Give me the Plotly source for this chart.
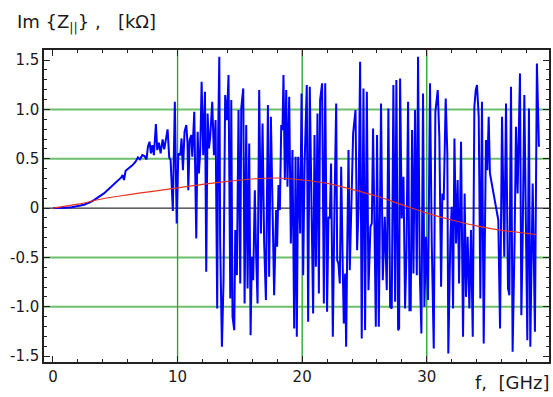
import plotly.graph_objects as go

# Blue: Im{Z||} wake impedance (kOhm) vs frequency (GHz)
f_blue = [0, 0.5, 1.0, 1.5, 2.0, 2.5, 3.0, 3.29, 4.09, 4.63, 5.16, 5.48, 5.59, 5.7, 5.83, 6.1, 6.37, 6.63, 6.82, 6.98,
          7.17, 7.35, 7.51, 7.62, 7.75, 7.86, 7.97, 8.1, 8.26, 8.37, 8.5, 8.64, 8.8, 8.93, 9.07, 9.2, 9.33, 9.44, 9.62, 9.78,
          9.93, 10.06, 10.22, 10.32, 10.43, 10.56, 10.70, 10.80, 10.86, 10.97, 11.10, 11.18, 11.34, 11.50, 11.61, 11.71, 11.82, 11.93, 12.06, 12.20,
          12.30, 12.41, 12.52, 12.62, 12.78, 12.92, 13.05, 13.18, 13.26, 13.35, 13.42, 13.56, 13.69, 13.82, 13.96, 14.09, 14.23, 14.31, 14.41, 14.55,
          14.63, 14.76, 14.89, 15.03, 15.11, 15.27, 15.38, 15.51, 15.62, 15.75, 15.86, 15.96, 16.07, 16.20, 16.31, 16.42, 16.55, 16.69, 16.82, 16.95,
          17.09, 17.25, 17.35, 17.49, 17.75, 17.91, 17.99, 18.10, 18.21, 18.32, 18.42, 18.50, 18.61, 18.72, 18.82, 18.96, 19.09, 19.22, 19.36, 19.47,
          19.57, 19.68, 19.84, 19.95, 20.08, 20.19, 20.37, 20.48, 20.61, 20.75, 20.88, 20.99, 21.10, 21.23, 21.34, 21.44, 21.60, 21.74, 21.85, 21.95,
          22.00, 22.11, 22.22, 22.32, 22.46, 22.59, 22.73, 22.81, 22.91, 23.02, 23.13, 23.26, 23.34, 23.45, 23.53, 23.61, 23.72, 23.82, 23.98, 24.09,
          24.28, 24.41, 24.52, 24.65, 24.78, 24.92, 25.05, 25.19, 25.32, 25.48, 25.59, 25.69, 25.80, 25.91, 26.01, 26.15, 26.33, 26.47, 26.63, 26.79,
          26.92, 27.06, 27.19, 27.32, 27.46, 27.56, 27.70, 27.78, 27.86, 27.99, 28.13, 28.26, 28.37, 28.50, 28.61, 28.71, 28.82, 28.93, 29.06, 29.20,
          29.30, 29.44, 29.57, 29.70, 29.81, 29.94, 30.10, 30.26, 30.40, 30.56, 30.69, 30.88, 31.01, 31.15, 31.25, 31.36, 31.52, 31.65, 31.73, 31.89,
          32.00, 32.11, 32.22, 32.35, 32.48, 32.59, 32.75, 32.91, 33.04, 33.15, 33.28, 33.42, 33.55, 33.69, 33.82, 33.93, 34.03, 34.17, 34.30, 34.43,
          34.57, 34.75, 34.86, 34.97, 35.07, 35.74, 35.88, 36.04, 36.22, 36.36, 36.52, 36.63, 36.76, 36.89, 37.05, 37.16, 37.29, 37.48, 37.59, 37.70,
          37.83, 37.96, 38.07, 38.20, 38.31, 38.50, 38.68, 38.84, 39.00]
im_blue = [0, 0.0, 0.003, 0.01, 0.02, 0.035, 0.06, 0.081, 0.149, 0.21, 0.267, 0.311, 0.335, 0.284, 0.379, 0.402, 0.433, 0.47, 0.514, 0.494,
           0.538, 0.527, 0.494, 0.622, 0.673, 0.554, 0.639, 0.537, 0.852, 0.588, 0.663, 0.554, 0.696, 0.595, 0.69, 0.798, 0.514, 0.487, -0.03, 1.078,
           -0.155, 0.554, 0.537, 0.706, 0.385, 0.774, 0.841, 0.655, 0.182, 0.689, 0.740, 0.520, 0.976, -0.307, 0.774, 0.351, 0.588, 1.280, 0.537, 1.179,
           -0.645, 0.959, 0.605, 0.723, 1.078, 0.537, 0.892, -1.017, 0.757, 1.534, -0.358, -1.405, -0.730, 1.145, 0.892, 1.348, -0.916, 1.095, -1.101, -1.236,
           -0.223, -0.679, 0.993, -0.764, 1.010, 1.213, -0.966, 0.841, -0.814, 0.655, -1.287, -0.493, -0.730, 0.182, -0.493, -0.966, 1.196, -0.257, 0.858, -0.358,
           -0.932, 1.044, -0.696, 0.926, -0.882, -0.020, -0.392, 0.233, -0.020, 0.841, 0.791, 1.348, 0.284, 1.196, 0.216, 1.128, -0.358, 0.588, -1.220, 0.520,
           -1.304, 0.520, -0.257, 1.162, -0.679, 0.419, 1.247, -1.152, 1.230, -0.105, -1.068, 0.740, -0.595, 0.959, -0.865, 1.095, 1.264, -0.966, 1.264, -0.257,
           -1.051, -0.088, -0.105, 0.453, -1.304, -0.020, 1.061, -0.527, -0.561, -0.764, 0.419, -0.628, -1.169, -0.662, -1.405, -0.459, 0.588, -0.628, 0.216, 0.757,
           0.993, -0.426, -0.020, 1.483, -1.321, 1.213, -1.236, 1.179, -0.831, -0.189, -0.155, 0.807, -0.155, -1.203, 0.740, -1.203, 1.061, -0.730, -0.088, -0.831,
           1.010, -1.000, -1.017, 1.247, -0.949, 1.297, -1.236, -1.220, 1.314, -0.105, 0.318, -1.017, -0.443, 1.078, -1.034, -1.034, 0.791, -0.662, 0.993, -0.679,
           1.534, -0.662, -1.270, 1.162, -1.000, -0.291, -0.932, 1.264, -0.350, -1.422, 0.976, 1.196, 0.723, -0.797, 0.149, 0.081, 1.111, 0.554, -1.473, -0.324,
           0.014, -1.017, 0.706, -0.358, 0.284, -0.764, 0.672, -1.304, 0.149, -0.899, -0.291, -1.017, -0.223, -1.304, 1.027, 1.196, 1.247, 0.926, -0.916, 1.078,
           -1.372, 0.689, 0.385, 0.926, 0.351, -0.120, -1.220, 0.926, -0.493, 1.061, -0.814, -0.882, 1.230, -1.456, -0.324, 0.824, 0.149, 1.365, -1.084, -0.274,
           1.145, -0.020, -1.338, 1.010, -1.405, 0.250, -1.253, 1.466, 0.622]

# Red: smooth reference curve
f_red = [0, 2, 4, 6, 8, 10, 12, 14, 16, 18, 20, 22, 24, 26, 28, 30, 32, 34, 36, 38, 38.8]
im_red = [0, 0.04, 0.095, 0.135, 0.17, 0.205, 0.24, 0.27, 0.295, 0.305, 0.285, 0.25, 0.19, 0.12, 0.035,
          -0.05, -0.12, -0.18, -0.225, -0.255, -0.267]

x_ticks = [0, 10, 20, 30]
x_ticklabels = ["0", "10", "20", "30"]
y_ticks = [-1.5, -1.0, -0.5, 0, 0.5, 1.0, 1.5]
y_ticklabels = ["-1.5", "-1.0", "-0.5", "0", "0.5", "1.0", "1.5"]
x_grid = [10, 20, 30]
y_grid = [-1.0, -0.5, 0.5, 1.0]

fig = go.Figure()
fig.add_trace(go.Scatter(x=f_blue, y=im_blue, mode="lines",
                         line=dict(color="#0000ff", width=2), showlegend=False))
fig.add_trace(go.Scatter(x=f_red, y=im_red, mode="lines", line_shape="spline",
                         line=dict(color="#e8321e", width=1.2), showlegend=False))

shapes = []
for gx in x_grid:
    shapes.append(dict(type="line", xref="x", yref="paper", x0=gx, x1=gx, y0=0, y1=1,
                       line=dict(color="rgb(30,165,30)", width=1.3), layer="below"))
for gy in y_grid:
    shapes.append(dict(type="line", xref="paper", yref="y", x0=0, x1=1, y0=gy, y1=gy,
                       line=dict(color="rgba(60,170,60,0.75)", width=2), layer="below"))
shapes.append(dict(type="line", xref="paper", yref="y", x0=0, x1=1, y0=0, y1=0,
                   line=dict(color="black", width=1), layer="below"))

fig.update_layout(
    width=553, height=397,
    margin=dict(l=44, r=4, t=50, b=35),
    paper_bgcolor="white", plot_bgcolor="white",
    font=dict(family="DejaVu Sans", size=14, color="#1a1a1a"),
    shapes=shapes,
    xaxis=dict(range=[-0.72, 39.81], tickvals=x_ticks, ticktext=x_ticklabels,
               showgrid=False, zeroline=False, showline=True, linecolor="#222", linewidth=1.5,
               mirror="allticks", ticks="inside", ticklen=6, tickcolor="#222",
               minor=dict(dtick=2, ticks="inside", ticklen=3, tickcolor="#222", showgrid=False),
               tickfont=dict(size=15), automargin=False),
    yaxis=dict(range=[-1.559, 1.602], tickvals=y_ticks, ticktext=y_ticklabels,
               showgrid=False, zeroline=False, showline=True, linecolor="#222", linewidth=1.5,
               mirror="allticks", ticks="inside", ticklen=6, tickcolor="#222",
               minor=dict(dtick=0.1, ticks="inside", ticklen=3, tickcolor="#222", showgrid=False),
               tickfont=dict(size=15), automargin=False),
    annotations=[
        dict(text="Im {Z<sub>||</sub>} ,   [kΩ]", xref="paper", yref="paper", x=-0.057, y=1.043,
             xanchor="left", yanchor="bottom", showarrow=False, font=dict(size=18)),
        dict(text="f,  [GHz]", xref="paper", yref="paper", x=1.004, y=-0.025,
             xanchor="right", yanchor="top", showarrow=False, font=dict(size=18)),
    ],
)

fig.write_html("out.html", config={"displayModeBar": False},
               post_script="document.body.style.margin='0';")
